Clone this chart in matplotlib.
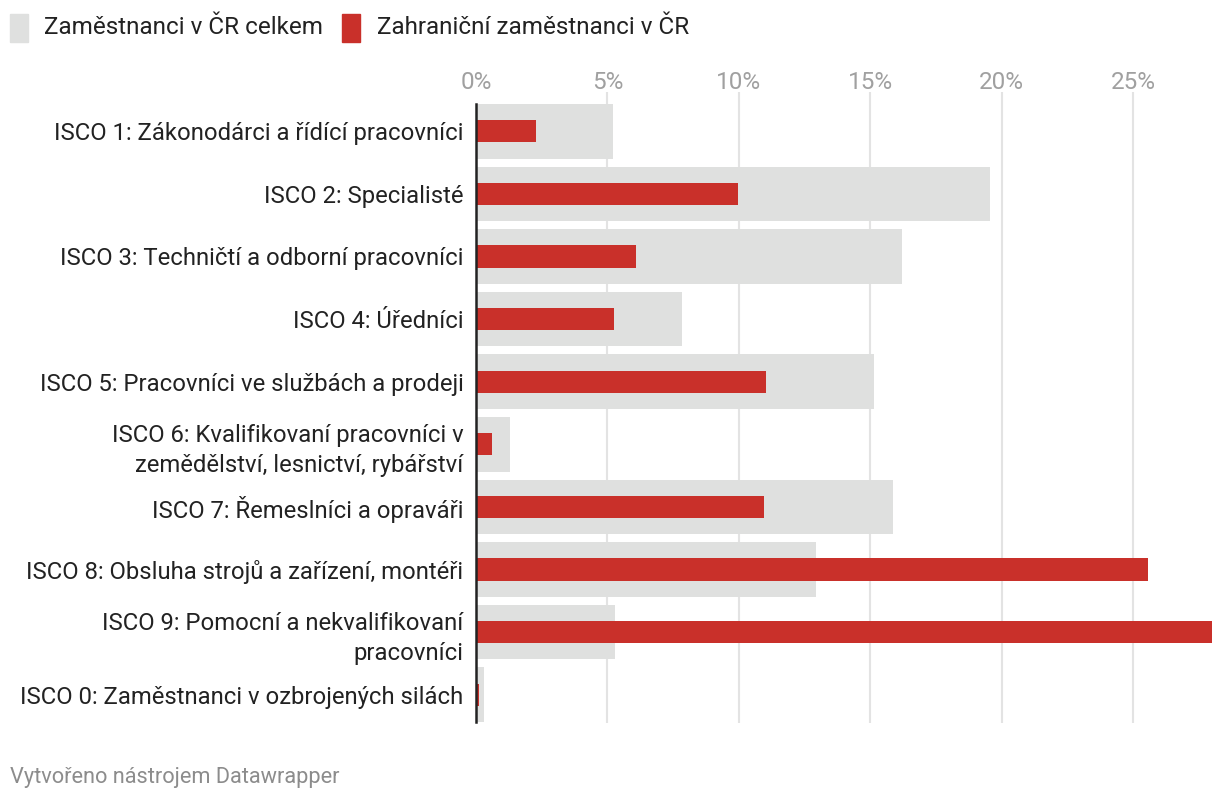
import matplotlib.pyplot as plt
from matplotlib.patches import Rectangle

plt.rcParams['font.family'] = ['Roboto', 'DejaVu Sans']

categories = [
    "ISCO 1: Zákonodárci a řídící pracovníci",
    "ISCO 2: Specialisté",
    "ISCO 3: Techničtí a odborní pracovníci",
    "ISCO 4: Úředníci",
    "ISCO 5: Pracovníci ve službách a prodeji",
    "ISCO 6: Kvalifikovaní pracovníci v\nzemědělství, lesnictví, rybářství",
    "ISCO 7: Řemeslníci a opraváři",
    "ISCO 8: Obsluha strojů a zařízení, montéři",
    "ISCO 9: Pomocní a nekvalifikovaní\npracovníci",
    "ISCO 0: Zaměstnanci v ozbrojených silách",
]
celkem = [5.2, 19.55, 16.2, 7.85, 15.15, 1.3, 15.85, 12.95, 5.27, 0.3]
zahranicni = [2.3, 9.95, 6.1, 5.25, 11.05, 0.6, 10.95, 25.55, 28.0, 0.1]
xticks = [0, 5, 10, 15, 20, 25]
legend_labels = ['Zaměstnanci v ČR celkem', 'Zahraniční zaměstnanci v ČR']

gray = '#dfe0df'
red = '#c9302a'
W, H = 1220, 800

fig = plt.figure(figsize=(12.2, 8), dpi=100)
ax = fig.add_axes([476 / W, 1 - 726 / H, (1212 - 476) / W, (726 - 100) / H])

ypos = list(range(len(categories)))
ax.barh(ypos, celkem, height=0.87, color=gray, zorder=2)
ax.barh(ypos, zahranicni, height=0.355, color=red, zorder=3)

ax.set_ylim(len(categories) - 0.5, -0.5)
ax.set_xlim(0, 28.0)

ax.set_yticks(ypos)
ax.set_yticklabels(categories, fontsize=17.2, color='#222222', linespacing=1.4)
ax.tick_params(axis='y', length=0, pad=9)

ax.xaxis.tick_top()
ax.set_xticks(xticks)
ax.set_xticklabels([f"{t}%" for t in xticks], fontsize=17.5, color='#a0a0a0')
ax.tick_params(axis='x', length=0, pad=4)
# gridlines reach a little above the first bar
trans = ax.get_xaxis_transform()
ax.vlines(xticks[1:], 0.005, 1.012, transform=trans, color='#e3e3e3',
          linewidth=1.5, zorder=0, clip_on=False)

for s in ['top', 'right', 'bottom']:
    ax.spines[s].set_visible(False)
ax.spines['left'].set_color('#222222')
ax.spines['left'].set_linewidth(1.8)
ax.spines['left'].set_zorder(4)
ax.spines['left'].set_bounds(len(categories) - 0.5 - 0.065, -0.5 + 0.065)

# legend drawn by hand, like Datawrapper's
for x0, col, lab, tx in [(10, gray, legend_labels[0], 44), (342, red, legend_labels[1], 377)]:
    fig.add_artist(Rectangle((x0 / W, 1 - 42 / H), 18 / W, 28 / H,
                             transform=fig.transFigure, color=col))
    fig.text(tx / W, 1 - 27 / H, lab, fontsize=17.5, color='#222222',
             va='center', ha='left')

fig.text(10 / W, 1 - 777 / H, "Vytvořeno nástrojem Datawrapper",
         fontsize=15.7, color='#8c8c8c', va='center', ha='left')

fig.savefig('out.png', dpi=100)
